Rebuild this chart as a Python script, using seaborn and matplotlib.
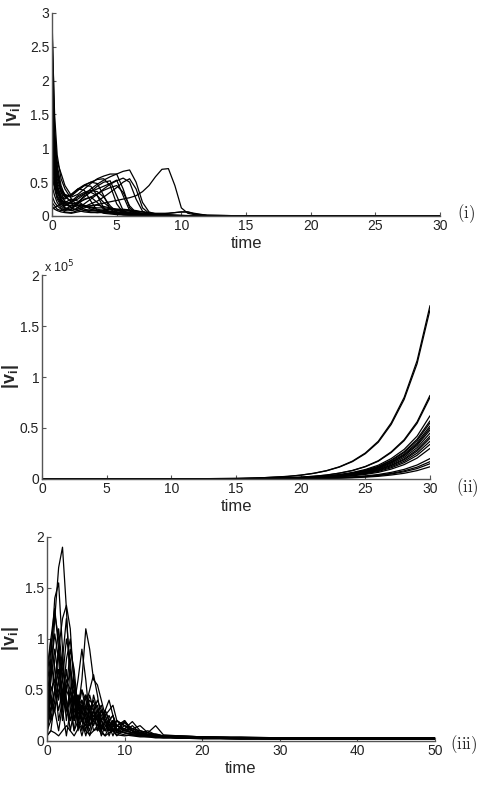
import matplotlib
matplotlib.use("Agg")
import matplotlib.pyplot as plt
from matplotlib.ticker import FuncFormatter
import pandas as pd
import seaborn as sns

# ---- panel (i): speeds |v_i|, time 0..30 ----
time_i = [0, 0.2, 0.4, 0.7, 1, 1.5, 2, 2.5, 3, 3.5, 4, 4.5, 5, 5.5, 6, 6.5, 7, 7.5,
          8, 8.5, 9, 9.5, 10, 10.5, 11, 12, 14, 20, 30]
speeds_i = [
    [2.95, 1.30, 0.75, 0.45, 0.30, 0.20, 0.16, 0.15, 0.15, 0.17, 0.19, 0.21, 0.23, 0.25, 0.27,
     0.30, 0.36, 0.45, 0.58, 0.69, 0.70, 0.45, 0.12, 0.04, 0.02, 0.01, 0.005, 0.002, 0.001],
    [2.60, 1.10, 0.65, 0.40, 0.28, 0.22, 0.25, 0.32, 0.40, 0.47, 0.53, 0.58, 0.62, 0.66, 0.68,
     0.50, 0.20, 0.06, 0.03, 0.02, 0.015, 0.01, 0.008, 0.006, 0.005, 0.003, 0.002, 0.001, 0.001],
    [2.30, 1.00, 0.60, 0.40, 0.32, 0.28, 0.32, 0.40, 0.48, 0.55, 0.59, 0.62, 0.62, 0.40, 0.12,
     0.04, 0.02, 0.015, 0.01, 0.008, 0.006, 0.005, 0.004, 0.003, 0.003, 0.002, 0.001, 0.001, 0.0],
    [2.00, 0.90, 0.55, 0.38, 0.30, 0.30, 0.38, 0.45, 0.50, 0.54, 0.55, 0.45, 0.18, 0.05, 0.03,
     0.02, 0.015, 0.01, 0.008, 0.006, 0.005, 0.004, 0.003, 0.002, 0.002, 0.001, 0.001, 0.0, 0.0],
    [1.70, 0.85, 0.50, 0.35, 0.28, 0.32, 0.40, 0.46, 0.50, 0.48, 0.30, 0.10, 0.04, 0.02, 0.015,
     0.01, 0.008, 0.006, 0.005, 0.004, 0.003, 0.003, 0.002, 0.002, 0.001, 0.001, 0.001, 0.0, 0.0],
    [1.50, 1.08, 0.80, 0.63, 0.45, 0.30, 0.38, 0.45, 0.44, 0.30, 0.12, 0.05, 0.03, 0.02, 0.015,
     0.01, 0.008, 0.006, 0.005, 0.004, 0.003, 0.003, 0.002, 0.002, 0.001, 0.001, 0.001, 0.0, 0.0],
    [1.20, 0.70, 0.45, 0.30, 0.25, 0.32, 0.40, 0.38, 0.22, 0.08, 0.04, 0.03, 0.02, 0.015, 0.01,
     0.008, 0.006, 0.005, 0.004, 0.003, 0.003, 0.002, 0.002, 0.001, 0.001, 0.001, 0.0, 0.0, 0.0],
    [1.00, 0.60, 0.40, 0.25, 0.18, 0.15, 0.15, 0.14, 0.13, 0.12, 0.12, 0.11, 0.10, 0.10, 0.09,
     0.08, 0.06, 0.04, 0.03, 0.02, 0.015, 0.01, 0.008, 0.006, 0.005, 0.003, 0.002, 0.001, 0.0],
    [0.80, 0.50, 0.30, 0.20, 0.15, 0.22, 0.30, 0.35, 0.38, 0.36, 0.28, 0.15, 0.06, 0.03, 0.02,
     0.015, 0.01, 0.008, 0.006, 0.005, 0.004, 0.003, 0.002, 0.002, 0.001, 0.001, 0.0, 0.0, 0.0],
    [0.60, 0.40, 0.25, 0.15, 0.10, 0.08, 0.10, 0.14, 0.18, 0.22, 0.28, 0.35, 0.42, 0.50, 0.55,
     0.40, 0.12, 0.04, 0.02, 0.015, 0.01, 0.008, 0.006, 0.005, 0.004, 0.003, 0.002, 0.001, 0.0],
    [0.45, 0.30, 0.20, 0.12, 0.08, 0.10, 0.20, 0.30, 0.35, 0.30, 0.20, 0.12, 0.08, 0.06, 0.05,
     0.04, 0.03, 0.02, 0.015, 0.01, 0.008, 0.006, 0.005, 0.004, 0.003, 0.002, 0.001, 0.0, 0.0],
    [0.30, 0.20, 0.15, 0.10, 0.06, 0.05, 0.08, 0.12, 0.15, 0.16, 0.14, 0.12, 0.10, 0.09, 0.08,
     0.07, 0.06, 0.05, 0.04, 0.04, 0.04, 0.05, 0.06, 0.06, 0.03, 0.01, 0.005, 0.002, 0.001],
    [0.20, 0.15, 0.10, 0.08, 0.10, 0.15, 0.18, 0.16, 0.12, 0.10, 0.08, 0.07, 0.06, 0.05, 0.04,
     0.03, 0.02, 0.015, 0.01, 0.008, 0.006, 0.005, 0.004, 0.003, 0.002, 0.001, 0.001, 0.0, 0.0],
    [0.10, 0.12, 0.15, 0.18, 0.20, 0.18, 0.12, 0.08, 0.06, 0.05, 0.05, 0.04, 0.04, 0.03, 0.03,
     0.02, 0.02, 0.015, 0.01, 0.008, 0.006, 0.005, 0.004, 0.003, 0.002, 0.001, 0.001, 0.0, 0.0],
    [2.80, 1.50, 0.90, 0.55, 0.40, 0.25, 0.15, 0.10, 0.08, 0.07, 0.06, 0.05, 0.04, 0.03, 0.02,
     0.015, 0.01, 0.008, 0.006, 0.005, 0.004, 0.003, 0.002, 0.002, 0.001, 0.001, 0.0, 0.0, 0.0],
    [2.40, 1.20, 0.70, 0.35, 0.20, 0.12, 0.20, 0.28, 0.36, 0.44, 0.50, 0.52, 0.30, 0.08, 0.03,
     0.02, 0.015, 0.01, 0.008, 0.006, 0.005, 0.004, 0.003, 0.002, 0.002, 0.001, 0.001, 0.0, 0.0],
    [1.80, 0.80, 0.45, 0.25, 0.15, 0.20, 0.28, 0.33, 0.36, 0.40, 0.44, 0.48, 0.53, 0.30, 0.08,
     0.03, 0.02, 0.015, 0.01, 0.008, 0.006, 0.005, 0.004, 0.003, 0.002, 0.001, 0.001, 0.0, 0.0],
    [0.90, 0.55, 0.35, 0.22, 0.20, 0.25, 0.22, 0.15, 0.10, 0.08, 0.09, 0.10, 0.09, 0.07, 0.05,
     0.03, 0.02, 0.015, 0.01, 0.008, 0.006, 0.005, 0.004, 0.003, 0.002, 0.001, 0.001, 0.0, 0.0],
    [0.55, 0.45, 0.35, 0.25, 0.18, 0.12, 0.08, 0.06, 0.05, 0.05, 0.06, 0.07, 0.08, 0.08, 0.07,
     0.06, 0.04, 0.03, 0.02, 0.015, 0.01, 0.008, 0.006, 0.005, 0.004, 0.003, 0.002, 0.001, 0.0],
    [1.30, 0.70, 0.40, 0.22, 0.12, 0.08, 0.12, 0.18, 0.25, 0.32, 0.40, 0.47, 0.52, 0.56, 0.50,
     0.25, 0.07, 0.03, 0.02, 0.015, 0.01, 0.008, 0.006, 0.005, 0.004, 0.003, 0.002, 0.001, 0.0],
    [0.15, 0.10, 0.08, 0.06, 0.05, 0.04, 0.06, 0.08, 0.09, 0.08, 0.07, 0.06, 0.05, 0.05, 0.04,
     0.04, 0.04, 0.03, 0.03, 0.03, 0.04, 0.05, 0.06, 0.06, 0.04, 0.01, 0.005, 0.002, 0.001],
    [1.10, 0.65, 0.42, 0.28, 0.22, 0.18, 0.20, 0.24, 0.28, 0.33, 0.38, 0.42, 0.45, 0.35, 0.15,
     0.05, 0.03, 0.02, 0.015, 0.01, 0.008, 0.006, 0.005, 0.004, 0.003, 0.002, 0.001, 0.0, 0.0],
    [0.70, 0.45, 0.28, 0.18, 0.12, 0.10, 0.18, 0.25, 0.28, 0.20, 0.10, 0.06, 0.04, 0.03, 0.02,
     0.015, 0.01, 0.008, 0.006, 0.005, 0.004, 0.003, 0.002, 0.002, 0.001, 0.001, 0.0, 0.0, 0.0],
]

# ---- panel (ii): growing speeds, values in units of 1e5 ----
time_ii = [0, 5, 10, 15, 17, 19, 20, 21, 22, 23, 24, 25, 26, 27, 28, 29, 30]
scale_ii = 1e5
speeds_ii = [
    [0, 0.0001, 0.0008, 0.0056, 0.012, 0.026, 0.038, 0.056, 0.082, 0.12, 0.175, 0.255, 0.37, 0.55, 0.80, 1.16, 1.70],
    [0, 0.0001, 0.0008, 0.0054, 0.0117, 0.025, 0.037, 0.055, 0.08, 0.117, 0.17, 0.248, 0.36, 0.535, 0.78, 1.13, 1.66],
    [0, 0.0001, 0.0004, 0.0027, 0.0057, 0.012, 0.018, 0.027, 0.039, 0.058, 0.084, 0.123, 0.179, 0.266, 0.385, 0.56, 0.82],
    [0, 0.0001, 0.0004, 0.0026, 0.0056, 0.012, 0.018, 0.026, 0.038, 0.057, 0.082, 0.12, 0.174, 0.259, 0.376, 0.546, 0.80],
    [0, 0, 0.0003, 0.002, 0.0043, 0.009, 0.014, 0.02, 0.03, 0.044, 0.064, 0.093, 0.135, 0.2, 0.29, 0.42, 0.62],
    [0, 0, 0.0003, 0.0019, 0.004, 0.0085, 0.0125, 0.019, 0.027, 0.04, 0.059, 0.086, 0.124, 0.185, 0.268, 0.39, 0.57],
    [0, 0, 0.0003, 0.0018, 0.0039, 0.0083, 0.012, 0.018, 0.026, 0.039, 0.057, 0.083, 0.12, 0.178, 0.259, 0.376, 0.55],
    [0, 0, 0.0003, 0.0017, 0.0036, 0.0078, 0.011, 0.017, 0.025, 0.037, 0.054, 0.078, 0.113, 0.168, 0.244, 0.355, 0.52],
    [0, 0, 0.0002, 0.0017, 0.0035, 0.0075, 0.011, 0.016, 0.024, 0.035, 0.052, 0.075, 0.109, 0.162, 0.235, 0.34, 0.50],
    [0, 0, 0.0002, 0.0016, 0.0034, 0.0072, 0.0106, 0.016, 0.023, 0.034, 0.049, 0.072, 0.105, 0.156, 0.226, 0.328, 0.48],
    [0, 0, 0.0002, 0.0015, 0.0032, 0.0068, 0.0099, 0.015, 0.022, 0.032, 0.046, 0.068, 0.098, 0.146, 0.212, 0.307, 0.45],
    [0, 0, 0.0002, 0.0014, 0.0029, 0.0063, 0.0092, 0.014, 0.02, 0.03, 0.043, 0.063, 0.092, 0.136, 0.197, 0.287, 0.42],
    [0, 0, 0.0002, 0.0013, 0.0028, 0.006, 0.0088, 0.013, 0.019, 0.028, 0.041, 0.06, 0.087, 0.13, 0.188, 0.273, 0.40],
    [0, 0, 0.0002, 0.0012, 0.0026, 0.0056, 0.0081, 0.012, 0.018, 0.026, 0.038, 0.056, 0.081, 0.12, 0.174, 0.253, 0.37],
    [0, 0, 0.0002, 0.0011, 0.0024, 0.0051, 0.0075, 0.011, 0.016, 0.024, 0.035, 0.051, 0.074, 0.11, 0.16, 0.232, 0.34],
    [0, 0, 0.0002, 0.001, 0.0021, 0.0045, 0.0066, 0.0099, 0.014, 0.021, 0.031, 0.045, 0.065, 0.097, 0.141, 0.205, 0.30],
    [0, 0, 0.0001, 0.0007, 0.0014, 0.003, 0.0044, 0.0066, 0.0096, 0.014, 0.021, 0.03, 0.044, 0.065, 0.094, 0.137, 0.20],
    [0, 0, 0.0001, 0.0006, 0.0012, 0.0026, 0.0037, 0.0056, 0.0082, 0.012, 0.018, 0.026, 0.037, 0.055, 0.08, 0.116, 0.17],
    [0, 0, 0.0001, 0.0005, 0.0011, 0.0023, 0.0033, 0.005, 0.0072, 0.011, 0.015, 0.023, 0.033, 0.049, 0.071, 0.102, 0.15],
    [0, 0, 0.0001, 0.0004, 0.0008, 0.0018, 0.0026, 0.004, 0.0058, 0.0085, 0.012, 0.018, 0.026, 0.039, 0.056, 0.082, 0.12],
]

# ---- panel (iii): oscillating speeds, time 0..50 ----
time_iii = [0, 0.5, 1, 1.5, 2, 2.5, 3, 3.5, 4, 4.5, 5, 5.5, 6, 6.5, 7, 7.5, 8, 8.5, 9,
            10, 11, 12, 13, 14, 15, 17, 20, 25, 30, 35, 40, 45, 50]
speeds_iii = [
    [0.1, 0.6, 1.2, 1.7, 1.9, 1.3, 0.5, 0.2, 0.3, 0.35, 0.25, 0.15, 0.2, 0.25, 0.15, 0.1, 0.12,
     0.1, 0.08, 0.06, 0.05, 0.04, 0.04, 0.03, 0.03, 0.03, 0.03, 0.02, 0.02, 0.02, 0.02, 0.02, 0.02],
    [0.2, 0.8, 1.4, 1.55, 0.9, 0.3, 0.4, 0.5, 0.35, 0.2, 0.25, 0.3, 0.2, 0.15, 0.2, 0.15, 0.1,
     0.12, 0.1, 0.08, 0.06, 0.05, 0.05, 0.04, 0.04, 0.03, 0.03, 0.03, 0.02, 0.02, 0.02, 0.02, 0.02],
    [0.3, 0.5, 0.6, 0.9, 1.2, 1.33, 1.1, 0.5, 0.1, 0.3, 0.45, 0.3, 0.15, 0.25, 0.3, 0.2, 0.1,
     0.15, 0.12, 0.08, 0.07, 0.06, 0.05, 0.05, 0.04, 0.04, 0.03, 0.03, 0.03, 0.02, 0.03, 0.03, 0.03],
    [0.4, 0.3, 0.5, 0.7, 0.5, 0.3, 0.4, 0.5, 0.3, 0.6, 1.1, 0.9, 0.6, 0.55, 0.4, 0.25, 0.3,
     0.35, 0.2, 0.15, 0.12, 0.1, 0.08, 0.06, 0.05, 0.04, 0.04, 0.03, 0.03, 0.03, 0.03, 0.03, 0.03],
    [0.2, 0.4, 0.3, 0.5, 0.6, 0.4, 0.2, 0.35, 0.6, 0.9, 0.6, 0.2, 0.3, 0.4, 0.3, 0.2, 0.15,
     0.2, 0.15, 0.1, 0.08, 0.07, 0.06, 0.05, 0.05, 0.04, 0.04, 0.03, 0.03, 0.03, 0.03, 0.03, 0.03],
    [0.5, 0.9, 1.25, 1.0, 0.6, 1.0, 0.8, 0.3, 0.2, 0.4, 0.3, 0.15, 0.25, 0.2, 0.1, 0.2, 0.15,
     0.1, 0.1, 0.08, 0.06, 0.05, 0.05, 0.04, 0.04, 0.03, 0.03, 0.03, 0.02, 0.02, 0.02, 0.02, 0.02],
    [0.6, 1.0, 0.7, 0.4, 0.8, 1.2, 0.7, 0.2, 0.4, 0.5, 0.3, 0.4, 0.35, 0.2, 0.3, 0.25, 0.15,
     0.2, 0.1, 0.15, 0.1, 0.06, 0.05, 0.05, 0.04, 0.04, 0.03, 0.03, 0.03, 0.03, 0.03, 0.03, 0.03],
    [0.3, 0.7, 1.05, 0.8, 0.3, 0.6, 0.5, 0.2, 0.45, 0.3, 0.1, 0.3, 0.4, 0.25, 0.1, 0.2, 0.25,
     0.15, 0.1, 0.12, 0.08, 0.1, 0.06, 0.05, 0.05, 0.04, 0.03, 0.03, 0.03, 0.02, 0.02, 0.02, 0.02],
    [0.1, 0.3, 0.5, 0.9, 0.6, 0.2, 0.5, 0.6, 0.3, 0.1, 0.3, 0.45, 0.3, 0.1, 0.25, 0.3, 0.2,
     0.1, 0.15, 0.18, 0.1, 0.08, 0.1, 0.06, 0.05, 0.05, 0.04, 0.03, 0.03, 0.03, 0.03, 0.03, 0.03],
    [0.05, 0.1, 0.4, 0.6, 0.3, 0.05, 0.3, 0.45, 0.2, 0.05, 0.2, 0.3, 0.1, 0.15, 0.3, 0.2, 0.05,
     0.15, 0.2, 0.1, 0.15, 0.08, 0.06, 0.07, 0.05, 0.04, 0.03, 0.03, 0.02, 0.02, 0.02, 0.02, 0.02],
    [0.0, 0.5, 0.6, 0.2, 0.4, 0.7, 0.3, 0.1, 0.35, 0.4, 0.2, 0.1, 0.3, 0.35, 0.15, 0.1, 0.2,
     0.25, 0.1, 0.18, 0.12, 0.15, 0.08, 0.06, 0.05, 0.05, 0.04, 0.04, 0.03, 0.03, 0.03, 0.03, 0.03],
    [0.5, 0.2, 0.3, 0.6, 0.8, 0.4, 0.1, 0.3, 0.4, 0.2, 0.05, 0.2, 0.3, 0.2, 0.05, 0.15, 0.2,
     0.1, 0.05, 0.12, 0.1, 0.07, 0.05, 0.04, 0.04, 0.03, 0.03, 0.02, 0.02, 0.02, 0.02, 0.02, 0.02],
    [0.15, 0.3, 0.8, 1.1, 0.7, 0.5, 0.9, 0.7, 0.3, 0.5, 0.4, 0.2, 0.45, 0.3, 0.1, 0.3, 0.2,
     0.1, 0.2, 0.15, 0.1, 0.06, 0.05, 0.06, 0.04, 0.04, 0.03, 0.03, 0.03, 0.03, 0.03, 0.03, 0.03],
    [0.2, 0.45, 0.3, 0.1, 0.35, 0.5, 0.4, 0.1, 0.2, 0.3, 0.2, 0.05, 0.2, 0.25, 0.1, 0.05, 0.15,
     0.18, 0.08, 0.1, 0.12, 0.08, 0.06, 0.04, 0.05, 0.03, 0.03, 0.03, 0.02, 0.02, 0.02, 0.02, 0.02],
    [0.4, 0.8, 0.5, 0.3, 0.5, 0.3, 0.2, 0.4, 0.45, 0.2, 0.15, 0.35, 0.3, 0.1, 0.2, 0.25, 0.15,
     0.05, 0.15, 0.2, 0.1, 0.05, 0.08, 0.05, 0.04, 0.03, 0.03, 0.02, 0.02, 0.02, 0.02, 0.02, 0.02],
    [0.1, 0.2, 0.5, 0.7, 0.4, 0.3, 0.5, 0.4, 0.2, 0.35, 0.3, 0.15, 0.2, 0.3, 0.2, 0.1, 0.2,
     0.25, 0.15, 0.12, 0.19, 0.1, 0.08, 0.15, 0.06, 0.05, 0.04, 0.03, 0.03, 0.03, 0.03, 0.03, 0.03],
    [0.7, 1.0, 1.3, 0.9, 0.4, 0.8, 1.0, 0.6, 0.2, 0.3, 0.45, 0.35, 0.2, 0.3, 0.35, 0.2, 0.1,
     0.2, 0.15, 0.1, 0.08, 0.06, 0.05, 0.04, 0.04, 0.03, 0.03, 0.03, 0.02, 0.02, 0.02, 0.02, 0.02],
    [0.05, 0.1, 0.08, 0.05, 0.1, 0.15, 0.1, 0.05, 0.12, 0.15, 0.1, 0.06, 0.1, 0.12, 0.08, 0.05, 0.08,
     0.1, 0.06, 0.05, 0.06, 0.05, 0.04, 0.04, 0.03, 0.03, 0.02, 0.02, 0.02, 0.02, 0.02, 0.02, 0.02],
    [0.3, 0.6, 0.9, 0.6, 0.2, 0.5, 0.7, 0.5, 0.15, 0.2, 0.35, 0.5, 0.65, 0.45, 0.2, 0.3, 0.4,
     0.25, 0.1, 0.2, 0.1, 0.08, 0.06, 0.05, 0.04, 0.04, 0.03, 0.03, 0.03, 0.03, 0.03, 0.03, 0.03],
]


def long_form(times, curves, scale=1.0):
    rows = []
    for k, curve in enumerate(curves):
        for t, v in zip(times, curve):
            rows.append({"agent": k, "time": t, "speed": v * scale})
    return pd.DataFrame(rows)


sns.set_theme(style="ticks")
plt.rcParams["font.family"] = ["Liberation Sans", "DejaVu Sans"]
plt.rcParams["axes.linewidth"] = 1.0

fig = plt.figure(figsize=(4.78, 7.86), dpi=100)

panels = [
    # rect, times, curves, scale, xmax, xstep, yticks, tag, tag pos, ylabel x
    ([0.1088, 0.7252, 0.8117, 0.2583], time_i, speeds_i, 1.0, 30, 5,
     [0, 0.5, 1, 1.5, 2, 2.5, 3], "(i)", (1.067, 0.01), -0.103),
    ([0.0879, 0.3906, 0.8117, 0.2595], time_ii, speeds_ii, scale_ii, 30, 5,
     [0, 0.5e5, 1e5, 1.5e5, 2e5], "(ii)", (1.095, -0.04), -0.082),
    ([0.0983, 0.0573, 0.8117, 0.2595], time_iii, speeds_iii, 1.0, 50, 10,
     [0, 0.5, 1, 1.5, 2], "(iii)", (1.075, -0.02), -0.095),
]

for rect, times, curves, scale, xmax, xstep, yticks, tag, tagpos, ylx in panels:
    ax = fig.add_axes(rect)
    df = long_form(times, curves, scale)
    sns.lineplot(data=df, x="time", y="speed", units="agent", estimator=None,
                 color="black", linewidth=0.9, ax=ax, legend=False)
    ax.set_xlim(0, xmax)
    ax.set_ylim(0, yticks[-1])
    ax.set_xticks(range(0, xmax + 1, xstep))
    ax.set_yticks(yticks)
    if scale != 1.0:
        ax.yaxis.set_major_formatter(FuncFormatter(lambda v, p: f"{v / 1e5:g}"))
        ax.text(0.005, 1.0, r"x 10$^{5}$", transform=ax.transAxes, ha="left",
                va="bottom", fontsize=9, color="#222222")
    else:
        ax.yaxis.set_major_formatter(FuncFormatter(lambda v, p: f"{v:g}"))
    sns.despine(ax=ax)
    for side in ("left", "bottom"):
        ax.spines[side].set_color("#555555")
    ax.tick_params(direction="in", length=3, width=0.8, color="#555555",
                   labelsize=10, labelcolor="#222222", pad=2)
    ax.set_xlabel("time", fontsize=12)
    ax.set_ylabel(r"|v$_{\mathregular{i}}$|", fontsize=13, fontweight="bold")
    ax.xaxis.label.set_va("center")
    ax.yaxis.label.set_va("center")
    ax.xaxis.set_label_coords(0.5, -0.135)
    ax.yaxis.set_label_coords(ylx, 0.5)
    ax.text(tagpos[0], tagpos[1], r"$\mathrm{" + tag + "}$", transform=ax.transAxes,
            ha="center", va="center", fontsize=12, math_fontfamily="cm")

fig.savefig("out.png", dpi=100)
